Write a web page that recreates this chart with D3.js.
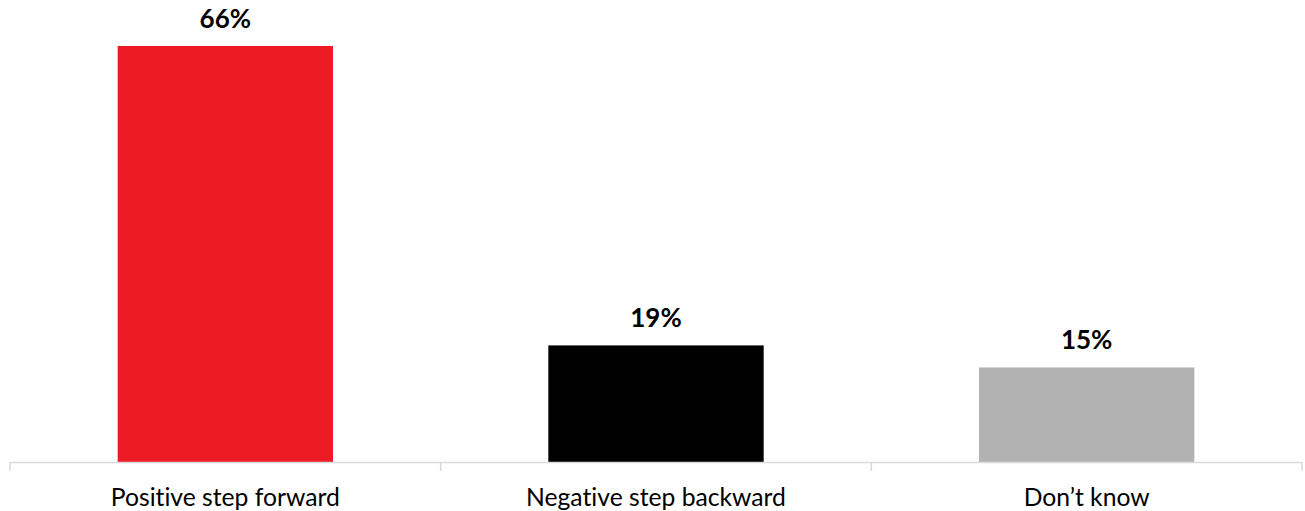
<!DOCTYPE html>
<html>
<head>
<meta charset="utf-8">
<script src="https://cdn.jsdelivr.net/npm/d3@7"></script>
<style>
  html, body { margin: 0; padding: 0; background: #fff; }
  svg { display: block; }
  text { font-variant-ligatures: none; font-feature-settings: "liga" 0, "clig" 0; }
</style>
</head>
<body>
<svg id="chart" width="1305" height="511"></svg>
<script>
const categories = ["Positive step forward", "Negative step backward", "Don\u2019t know"];
const values = [66, 18.5, 15];
const valueLabels = ["66%", "19%", "15%"];
const colors = ["#ED1C24", "#000000", "#B2B2B2"];

const W = 1305, H = 511;
const left = 10, right = 1302, base = 462, topY = 46;

const svg = d3.select("#chart");

const x = d3.scaleBand()
  .domain(categories)
  .range([left, right])
  .paddingInner(0.5)
  .paddingOuter(0.25);

const y = d3.scaleLinear()
  .domain([0, d3.max(values)])
  .range([base, topY]);

const font = "Lato, 'Open Sans', sans-serif";

// bars
svg.append("g").selectAll("rect")
  .data(categories)
  .join("rect")
  .attr("x", d => x(d))
  .attr("width", x.bandwidth())
  .attr("y", (d, i) => y(values[i]))
  .attr("height", (d, i) => base - y(values[i]))
  .attr("fill", (d, i) => colors[i]);

// axis line and ticks at band boundaries
const axisG = svg.append("g");
axisG.append("line")
  .attr("x1", left).attr("x2", right)
  .attr("y1", base + 0.5).attr("y2", base + 0.5)
  .attr("stroke", "#D9D9D9").attr("stroke-width", 1.5);
const boundaries = d3.range(categories.length + 1).map(i => left + i * (right - left) / categories.length);
axisG.selectAll("line.tick")
  .data(boundaries)
  .join("line")
  .attr("class", "tick")
  .attr("x1", d => d).attr("x2", d => d)
  .attr("y1", base).attr("y2", base + 9)
  .attr("stroke", "#D9D9D9").attr("stroke-width", 1.5);

// category labels
svg.append("g").selectAll("text")
  .data(categories)
  .join("text")
  .attr("x", d => x(d) + x.bandwidth() / 2)
  .attr("y", 506)
  .attr("text-anchor", "middle")
  .attr("font-family", font)
  .attr("font-size", 24.7)
  .attr("fill", "#000")
  .text(d => d);

// value labels
svg.append("g").selectAll("text")
  .data(categories)
  .join("text")
  .attr("x", d => x(d) + x.bandwidth() / 2)
  .attr("y", (d, i) => y(values[i]) - 18)
  .attr("text-anchor", "middle")
  .attr("font-family", font)
  .attr("font-weight", "bold")
  .attr("font-size", 26)
  .attr("fill", "#000")
  .text((d, i) => valueLabels[i]);
</script>
</body>
</html>
